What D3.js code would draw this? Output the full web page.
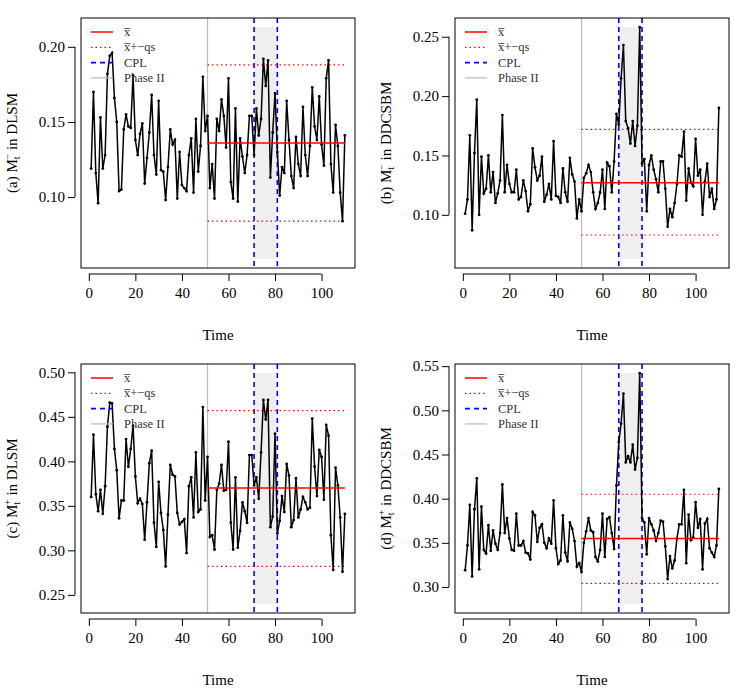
<!DOCTYPE html>
<html><head><meta charset="utf-8">
<script src="https://cdn.jsdelivr.net/npm/d3@7"></script>
<style>body{margin:0;background:#fff}svg{font-family:"Liberation Serif","DejaVu Serif",serif}</style>
</head><body><svg id="c" width="750" height="692"></svg>
<script>
const seriesA=[0.119,0.170,0.116,0.096,0.153,0.119,0.128,0.182,0.194,0.196,0.166,0.150,0.104,0.105,0.145,0.155,0.147,0.146,0.181,0.138,0.128,0.142,0.149,0.109,0.126,0.143,0.168,0.128,0.115,0.164,0.118,0.117,0.098,0.120,0.145,0.135,0.138,0.099,0.130,0.108,0.106,0.104,0.128,0.139,0.103,0.152,0.117,0.134,0.180,0.144,0.154,
0.106,0.122,0.099,0.152,0.144,0.165,0.154,0.133,0.179,0.110,0.099,0.159,0.097,0.139,0.127,0.116,0.128,0.154,0.154,0.128,0.159,0.141,0.152,0.192,0.174,0.191,0.113,0.143,0.169,0.130,0.101,0.120,0.116,0.164,0.138,0.114,0.106,0.140,0.122,0.114,0.160,0.128,0.114,0.134,0.173,0.147,0.138,0.167,0.135,0.121,0.179,0.191,0.122,0.103,0.148,0.134,0.103,0.084,0.141];
const seriesB=[0.101,0.113,0.167,0.087,0.152,0.197,0.100,0.149,0.118,0.122,0.150,0.119,0.136,0.110,0.118,0.129,0.184,0.119,0.142,0.126,0.119,0.119,0.138,0.113,0.115,0.129,0.120,0.103,0.109,0.156,0.140,0.129,0.133,0.149,0.111,0.117,0.126,0.113,0.162,0.116,0.115,0.110,0.139,0.119,0.111,0.148,0.134,0.128,0.097,0.113,0.103,
0.131,0.135,0.142,0.136,0.119,0.105,0.110,0.119,0.138,0.105,0.144,0.141,0.119,0.145,0.185,0.176,0.215,0.243,0.179,0.173,0.160,0.179,0.158,0.175,0.258,0.143,0.147,0.103,0.142,0.150,0.138,0.130,0.119,0.145,0.145,0.122,0.090,0.105,0.098,0.110,0.126,0.150,0.149,0.170,0.112,0.139,0.127,0.124,0.164,0.133,0.138,0.100,0.128,0.143,0.115,0.122,0.105,0.113,0.190];
const seriesC=[0.360,0.430,0.363,0.344,0.368,0.341,0.372,0.439,0.466,0.465,0.414,0.390,0.336,0.356,0.356,0.425,0.394,0.414,0.440,0.383,0.353,0.358,0.352,0.312,0.354,0.398,0.412,0.331,0.304,0.377,0.342,0.323,0.282,0.340,0.396,0.385,0.383,0.342,0.329,0.332,0.335,0.297,0.372,0.382,0.337,0.410,0.343,0.346,0.461,0.356,0.405,
0.315,0.317,0.301,0.368,0.375,0.396,0.367,0.368,0.422,0.331,0.301,0.382,0.303,0.322,0.354,0.344,0.331,0.407,0.407,0.373,0.382,0.358,0.410,0.469,0.447,0.469,0.326,0.338,0.431,0.319,0.333,0.361,0.343,0.397,0.384,0.326,0.334,0.381,0.337,0.346,0.360,0.354,0.346,0.348,0.448,0.394,0.361,0.413,0.405,0.357,0.441,0.429,0.317,0.278,0.393,0.373,0.337,0.276,0.341];
const seriesD=[0.319,0.347,0.393,0.312,0.388,0.423,0.320,0.391,0.342,0.338,0.370,0.341,0.364,0.349,0.342,0.361,0.416,0.361,0.378,0.355,0.342,0.341,0.383,0.347,0.347,0.352,0.339,0.338,0.331,0.385,0.381,0.351,0.367,0.371,0.350,0.344,0.355,0.349,0.398,0.344,0.326,0.330,0.381,0.339,0.329,0.373,0.366,0.352,0.323,0.327,0.317,
0.350,0.363,0.378,0.364,0.362,0.334,0.329,0.342,0.383,0.334,0.377,0.379,0.361,0.343,0.415,0.464,0.485,0.519,0.441,0.448,0.441,0.461,0.433,0.446,0.542,0.378,0.373,0.337,0.378,0.371,0.364,0.352,0.361,0.375,0.374,0.346,0.309,0.335,0.321,0.330,0.355,0.371,0.371,0.410,0.327,0.382,0.353,0.356,0.396,0.367,0.377,0.320,0.372,0.377,0.344,0.339,0.334,0.347,0.411];
const panelLetters=["(a)","(b)","(c)","(d)"];
const panelSign=["\u2212","\u2212","+","+"];
const panelModel=["DLSM","DDCSBM","DLSM","DDCSBM"];
const means=[0.136,0.127,0.370,0.355];
const lowerLim=[0.084,0.083,0.282,0.304];
const upperLim=[0.188,0.172,0.457,0.405];
const cplStart=[71,67,71,67];
const cplEnd=[81,77,81,77];
const yLimLow=[0.059,0.063,0.240,0.281];
const yLimHigh=[0.213,0.258,0.499,0.542];
const yTicks=[[0.10,0.15,0.20],[0.10,0.15,0.20,0.25],[0.25,0.30,0.35,0.40,0.45,0.50],[0.30,0.35,0.40,0.45,0.50,0.55]];
const xTicks=[0,20,40,60,80,100];
const phaseII=51;
const allSeries=[seriesA,seriesB,seriesC,seriesD];
const legendLabels=["x\u0305","x\u0305+\u2212qs","CPL","Phase II"];

const svg=d3.select("#c");
const boxes=[{l:81,r:355,t:18,b:268},{l:455,r:729,t:18,b:268},{l:81,r:355,t:364,b:613},{l:455,r:729,t:364,b:613}];
boxes.forEach((B,i)=>{
  const data=allSeries[i];
  const lo=yLimLow[i],hi=yLimHigh[i],pad=(hi-lo)*0.04;
  const x=d3.scaleLinear().domain([1-109*0.04,110+109*0.04]).range([B.l,B.r]);
  const y=d3.scaleLinear().domain([lo-pad,hi+pad]).range([B.b,B.t]);
  const g=svg.append("g");
  g.append("rect").attr("x",x(cplStart[i])).attr("width",x(cplEnd[i])-x(cplStart[i]))
   .attr("y",y(hi)).attr("height",y(lo)-y(hi)).attr("fill","#efefef");
  g.append("line").attr("x1",x(phaseII)).attr("x2",x(phaseII)).attr("y1",B.t).attr("y2",B.b).attr("stroke","#bebebe").attr("stroke-width",1.3);
  [cplStart[i],cplEnd[i]].forEach(c=>g.append("line").attr("x1",x(c)).attr("x2",x(c)).attr("y1",B.t).attr("y2",B.b)
    .attr("stroke","#0000ff").attr("stroke-width",1.6).attr("stroke-dasharray","5,4"));
  [lowerLim[i],upperLim[i]].forEach(v=>g.append("line").attr("x1",x(phaseII)).attr("x2",x(110)).attr("y1",y(v)).attr("y2",y(v))
    .attr("stroke","#ff0000").attr("stroke-width",1.2).attr("stroke-dasharray","1.5,3"));
  const line=d3.line().x((d,j)=>x(j+1)).y(d=>y(d));
  g.append("path").datum(data).attr("d",line).attr("fill","none").attr("stroke","#000").attr("stroke-width",1.5);
  g.selectAll("circle").data(data).join("circle").attr("cx",(d,j)=>x(j+1)).attr("cy",d=>y(d)).attr("r",1.4).attr("fill","#000");
  g.append("line").attr("x1",x(phaseII)).attr("x2",x(110)).attr("y1",y(means[i])).attr("y2",y(means[i])).attr("stroke","#ff0000").attr("stroke-width",1.5);
  g.append("rect").attr("x",B.l).attr("y",B.t).attr("width",B.r-B.l).attr("height",B.b-B.t).attr("fill","none").attr("stroke","#000");
  const xa=g.append("g").attr("transform",`translate(0,${B.b+6})`)
    .call(d3.axisBottom(x).tickValues(xTicks).tickSize(7).tickSizeOuter(0));
  xa.select(".domain").attr("d",`M${x(0)},0H${x(100)}`);
  xa.selectAll("text").attr("font-size",15).attr("font-family","Liberation Serif").attr("dy","0.9em");
  const ya=g.append("g").attr("transform",`translate(${B.l-6},0)`)
    .call(d3.axisLeft(y).tickValues(yTicks[i]).tickFormat(d3.format(".2f")).tickSize(7).tickSizeOuter(0));
  const yt=yTicks[i];
  ya.select(".domain").attr("d",`M0,${y(yt[0])}V${y(yt[yt.length-1])}`);
  ya.selectAll("text").attr("font-size",15).attr("font-family","Liberation Serif");
  g.append("text").attr("x",(B.l+B.r)/2).attr("y",B.b+72).attr("text-anchor","middle").attr("font-size",15).text("Time");
  const yl=g.append("text").attr("transform",`translate(${B.l-64},${(B.t+B.b)/2}) rotate(-90)`).attr("text-anchor","middle").attr("font-size",15);
  yl.append("tspan").text(panelLetters[i]+" M");
  yl.append("tspan").attr("font-size",10).attr("dy",3).text("t");
  yl.append("tspan").attr("font-size",10).attr("dy",-9).attr("dx",-3).text(panelSign[i]);
  yl.append("tspan").attr("dy",6).text(" in "+panelModel[i]);
  const lx=B.l+10, ly=B.t+14;
  const styles=[{c:"#ff0000",d:null,w:1.5},{c:"#ff0000",d:"1.5,3",w:1.2},{c:"#0000ff",d:"5,4",w:1.6},{c:"#bebebe",d:null,w:1.3}];
  styles.forEach((s,k)=>{
    const yy=ly+k*15.3;
    g.append("line").attr("x1",lx).attr("x2",lx+22).attr("y1",yy).attr("y2",yy).attr("stroke",s.c).attr("stroke-width",s.w).attr("stroke-dasharray",s.d);
    g.append("text").attr("x",lx+33).attr("y",yy+4).attr("font-size",12.5).attr("fill","#333").text(legendLabels[k]);
  });
});
</script></body></html>
